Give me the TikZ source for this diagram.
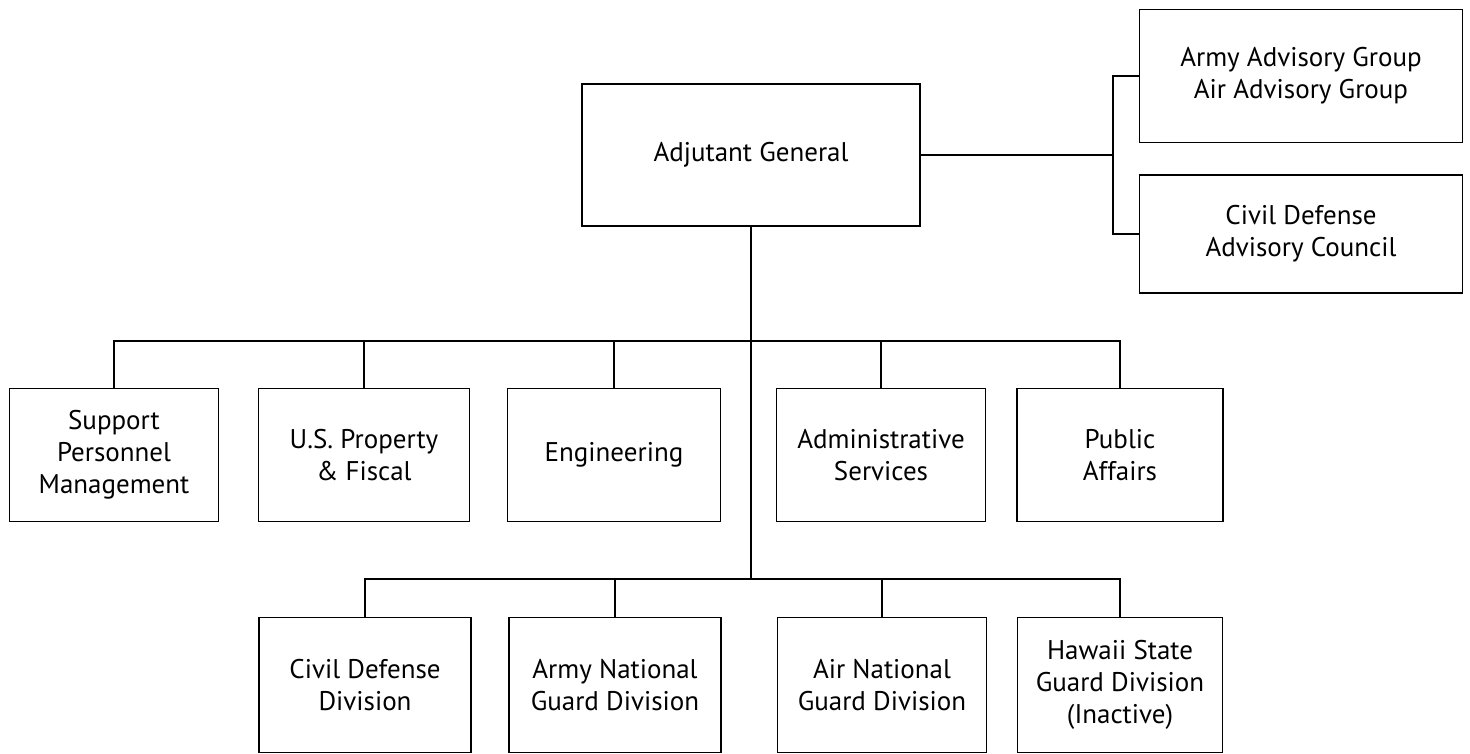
\documentclass[tikz,border=0pt]{standalone}
\usepackage{fontspec}
\setmainfont{PT Sans}
\begin{document}
\begin{tikzpicture}[x=1pt, y=-1pt, line width=1.6pt,
		unit/.style={shape=rectangle, draw, align=center, inner sep=0pt,
			font=\fontsize{27}{32}\selectfont}]
		\useasboundingbox (0,0) rectangle (1470,753);
		% Head and advisory nodes
		\node[unit, minimum width=338, minimum height=142] (AG) at (751, 155) {Adjutant General};
		\node[unit, minimum width=323, minimum height=133] (AAG) at (1301, 76) {Army Advisory Group\\Air Advisory Group};
		\node[unit, minimum width=323, minimum height=118] (CDAC) at (1301, 234) {Civil Defense\\Advisory Council};
		% Staff nodes
		\node[unit, minimum width=209, minimum height=133] (SPM) at (114, 455) {Support\\Personnel\\Management};
		\node[unit, minimum width=211, minimum height=133] (USP) at (364, 455) {U.S. Property\\\& Fiscal};
		\node[unit, minimum width=213, minimum height=133] (ENG) at (614, 455) {Engineering};
		\node[unit, minimum width=209, minimum height=133] (ADM) at (881, 455) {Administrative\\Services};
		\node[unit, minimum width=206, minimum height=133] (PA) at (1120, 455) {Public\\Affairs};
		% Division nodes
		\node[unit, minimum width=212, minimum height=135] (CDD) at (365, 685) {Civil Defense\\Division};
		\node[unit, minimum width=212, minimum height=135] (ANG) at (615, 685) {Army National\\Guard Division};
		\node[unit, minimum width=209, minimum height=135] (AIR) at (882, 685) {Air National\\Guard Division};
		\node[unit, minimum width=205, minimum height=135] (HSG) at (1120, 685) {Hawaii State\\Guard Division\\(Inactive)};
		% Bus points
		\coordinate (RB) at (1113, 155);
		\coordinate (B1) at (751, 341);
		\coordinate (B2) at (751, 579);
		% Advisory connections
		\draw (AG.east) -- (RB);
		\draw (RB) |- (AAG.west);
		\draw (RB) |- (CDAC.west);
		% Main line
		\draw (AG.south) -- (B2);
		% Staff connections
		\draw (B1) -| (SPM.north);
		\draw (B1) -| (USP.north);
		\draw (B1) -| (ENG.north);
		\draw (B1) -| (ADM.north);
		\draw (B1) -| (PA.north);
		% Division connections
		\draw (B2) -| (CDD.north);
		\draw (B2) -| (ANG.north);
		\draw (B2) -| (AIR.north);
		\draw (B2) -| (HSG.north);
	\end{tikzpicture}
\end{document}
